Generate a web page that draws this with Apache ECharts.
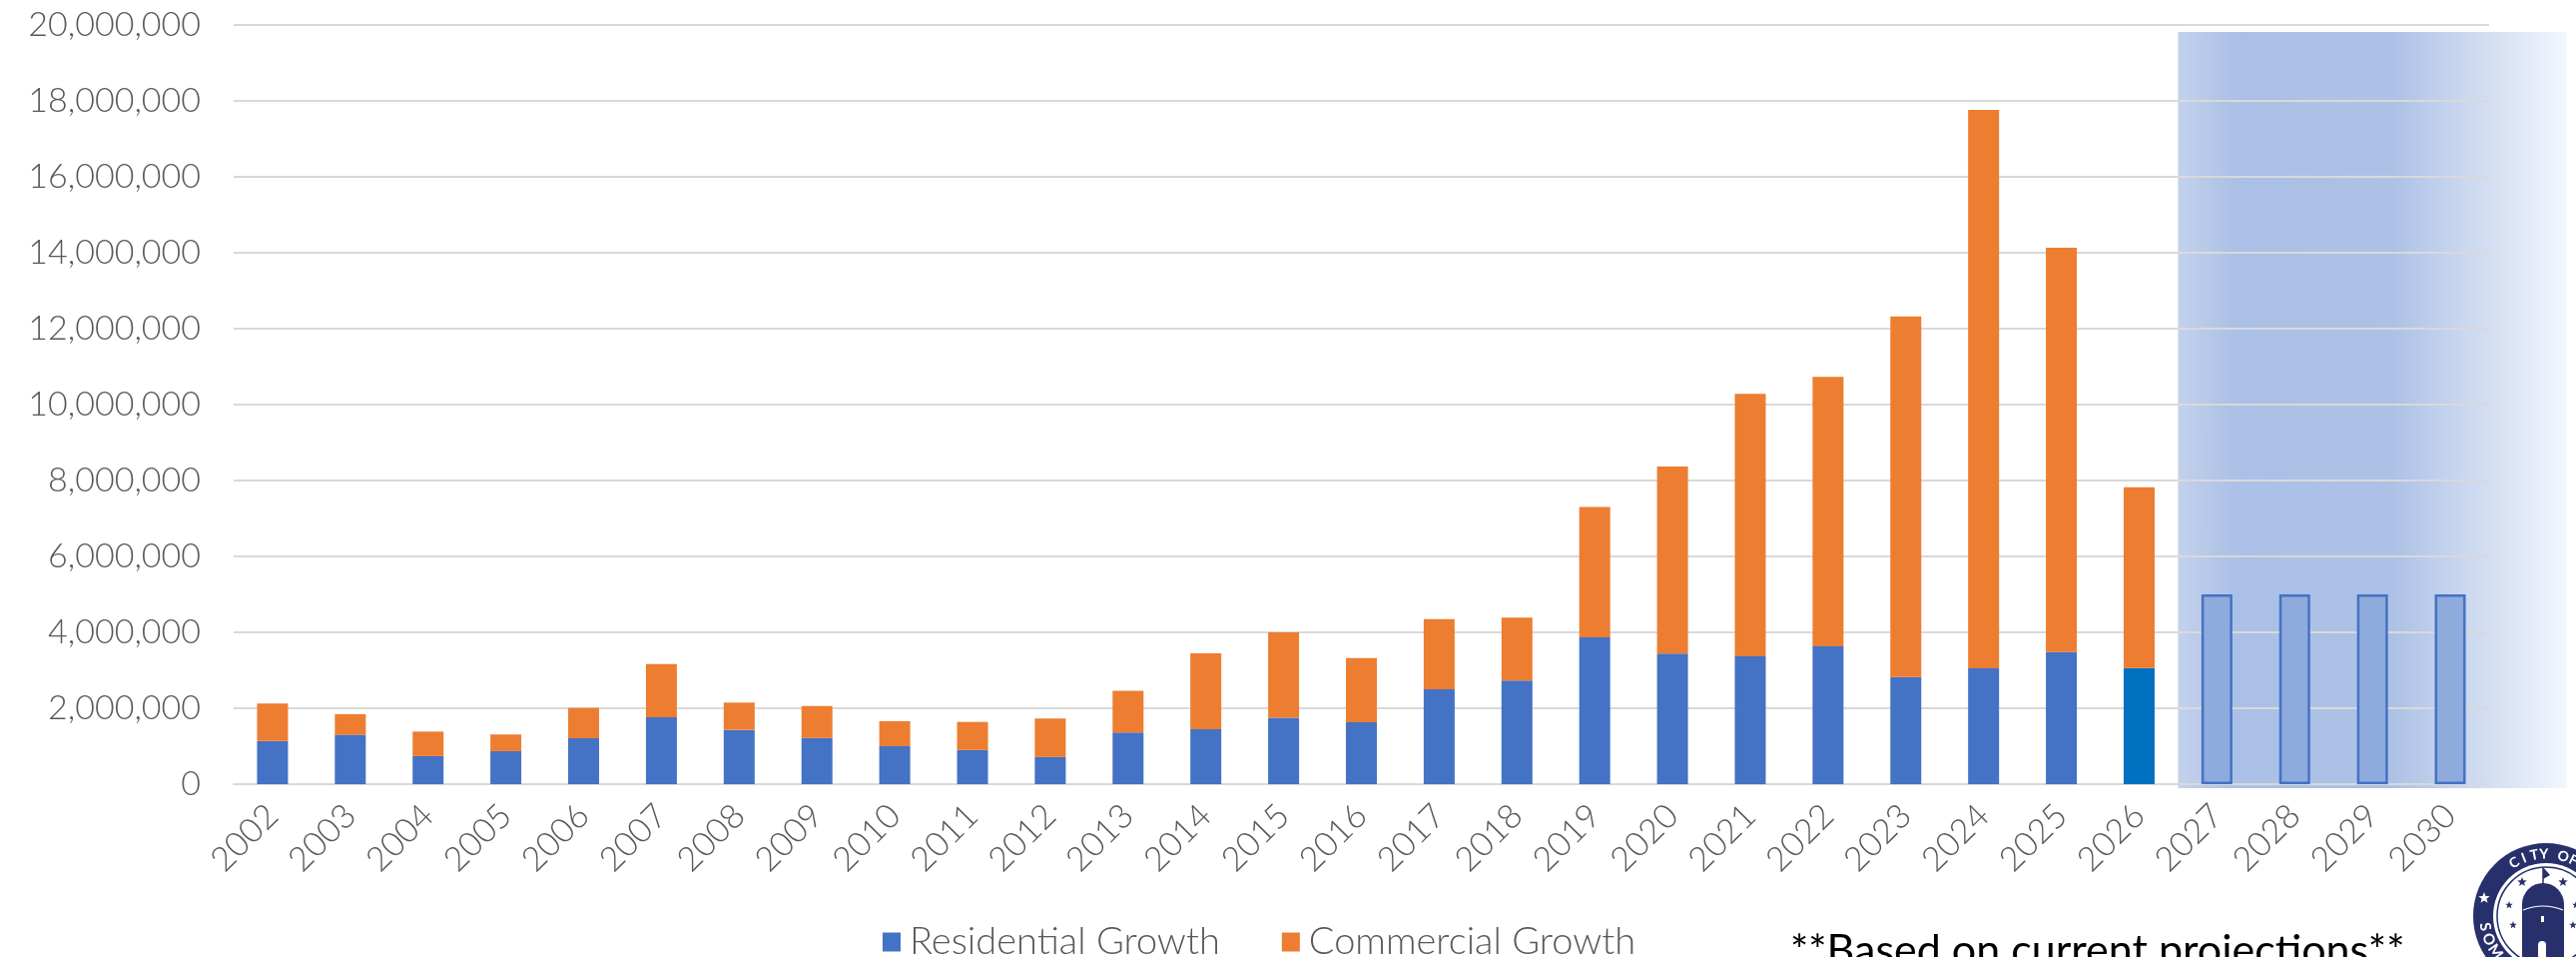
<!DOCTYPE html>
<html>
<head>
<meta charset="utf-8">
<title>Residential and Commercial Growth</title>
<script src="https://cdn.jsdelivr.net/npm/echarts@6/dist/echarts.min.js"></script>
<style>
  html, body { margin: 0; padding: 0; background: #ffffff; }
  #chart { width: 2580px; height: 958px; }
</style>
</head>
<body>
<div id="chart"></div>
<script>
// Years shown on the category axis
const years = ['2002','2003','2004','2005','2006','2007','2008','2009','2010','2011',
  '2012','2013','2014','2015','2016','2017','2018','2019','2020','2021',
  '2022','2023','2024','2025','2026','2027','2028','2029','2030'];

// Residential growth by year (2002-2026)
const residential = [1140000, 1300000, 740000, 870000, 1210000, 1760000, 1430000, 1220000, 1000000, 900000,
  720000, 1360000, 1450000, 1750000, 1630000, 2500000, 2730000, 3870000, 3440000, 3370000,
  3630000, 2820000, 3050000, 3480000, 3060000];

// Commercial growth by year (2002-2026)
const commercial = [985000, 545000, 646000, 440000, 800000, 1405000, 720000, 840000, 660000, 740000,
  1010000, 1100000, 2000000, 2250000, 1690000, 1850000, 1660000, 3430000, 4930000, 6910000,
  7100000, 9500000, 14710000, 10650000, 4760000];

// Projected totals for the coming years
const projectedYears = ['2027','2028','2029','2030'];
const projected = [5000000, 5000000, 5000000, 5000000];

// Y axis ticks
const yMin = 0, yMax = 20000000, yStep = 2000000;

const FONT = 'Lato, "Open Sans", sans-serif';
const TEXT_GREY = '#595959';
const BLUE = '#4472C4', ORANGE = '#ED7D31', CURRENT_BLUE = '#0070C0';

const resData = years.map((y, i) => {
  if (i >= residential.length) return null;
  if (y === '2026') return { value: residential[i], itemStyle: { color: CURRENT_BLUE } };
  return residential[i];
});
const comData = years.map((y, i) => i < commercial.length ? commercial[i] : null);
const projData = years.map(y => {
  const k = projectedYears.indexOf(y);
  return k >= 0 ? projected[k] : null;
});

const chart = echarts.init(document.getElementById('chart'), null, { renderer: 'canvas' });

chart.setOption({
  animation: false,
  backgroundColor: '#ffffff',
  grid: { left: 234, right: 87, top: 25, bottom: 173, containLabel: false },
  legend: {
    data: ['Residential Growth', 'Commercial Growth'],
    left: 884,
    top: 924,
    padding: 0,
    icon: 'rect',
    itemWidth: 18,
    itemHeight: 19,
    itemGap: 62,
    textStyle: { fontFamily: FONT, fontWeight: 300, fontSize: 38, color: TEXT_GREY, padding: [0, 0, 0, 4] }
  },
  xAxis: {
    type: 'category',
    data: years,
    axisTick: { show: false },
    axisLine: { show: true, lineStyle: { color: '#d9d9d9', width: 2 } },
    axisLabel: {
      rotate: 45,
      margin: 26,
      interval: 0,
      fontFamily: FONT,
      fontWeight: 300,
      fontSize: 34,
      color: TEXT_GREY
    }
  },
  yAxis: {
    type: 'value',
    min: yMin,
    max: yMax,
    interval: yStep,
    axisLine: { show: false },
    axisTick: { show: false },
    splitLine: { lineStyle: { color: '#d9d9d9', width: 2 } },
    axisLabel: {
      margin: 33,
      fontFamily: FONT,
      fontWeight: 300,
      fontSize: 34,
      color: TEXT_GREY,
      formatter: v => v.toLocaleString('en-US')
    }
  },
  series: [
    {
      name: 'Residential Growth',
      type: 'bar',
      stack: 'total',
      barWidth: 31,
      itemStyle: { color: BLUE },
      data: resData
    },
    {
      name: 'Commercial Growth',
      type: 'bar',
      stack: 'total',
      barWidth: 31,
      itemStyle: { color: ORANGE },
      data: comData
    },
    {
      name: 'Projected',
      type: 'bar',
      stack: 'total',
      barWidth: 31,
      itemStyle: { color: '#8FAADC', borderColor: '#4472C4', borderWidth: 2.5 },
      data: projData
    }
  ]
});

// Shaded band behind the projected years, placed from the axis scales
const band = chart.convertToPixel({ xAxisIndex: 0 }, '2028') - chart.convertToPixel({ xAxisIndex: 0 }, '2027');
const bandLeft = chart.convertToPixel({ xAxisIndex: 0 }, projectedYears[0]) - band / 2;
const bandRight = chart.convertToPixel({ xAxisIndex: 0 }, projectedYears[projectedYears.length - 1]) + band * 1.5;
const yTop = chart.convertToPixel({ yAxisIndex: 0 }, yMax) + 7;
const yBottom = chart.convertToPixel({ yAxisIndex: 0 }, yMin) + 4;

// Seal in the lower right corner
const cx = 2550, cy = 917;
const navy = '#27306B';

function arcLetters(text, radius, angles, outward, size) {
  return text.split('').map((ch, i) => {
    const a = angles[i] * Math.PI / 180;
    const rot = outward ? -(angles[i] + 90) : -(angles[i] - 90);
    return {
      type: 'text',
      x: cx + radius * Math.cos(a),
      y: cy + radius * Math.sin(a),
      rotation: rot * Math.PI / 180,
      style: {
        text: ch, fill: '#ffffff', font: 'bold ' + size + 'px ' + FONT,
        align: 'center', verticalAlign: 'middle'
      },
      z: 103
    };
  });
}

function star(x, y, r, color) {
  const pts = [];
  for (let k = 0; k < 10; k++) {
    const rr = k % 2 === 0 ? r : r * 0.42;
    const ang = -Math.PI / 2 + k * Math.PI / 5;
    pts.push([x + rr * Math.cos(ang), y + rr * Math.sin(ang)]);
  }
  return { type: 'polygon', shape: { points: pts }, style: { fill: color }, z: 103 };
}

const seal = [
  { type: 'circle', shape: { cx: cx, cy: cy, r: 73 }, style: { fill: navy }, z: 100 },
  { type: 'circle', shape: { cx: cx, cy: cy, r: 53 }, style: { fill: '#ffffff' }, z: 101 },
  { type: 'circle', shape: { cx: cx, cy: cy, r: 49 }, style: { fill: 'none', stroke: navy, lineWidth: 1.5 }, z: 102 }
].concat(
  arcLetters('CITYOF', 62, [-121, -111, -101, -92, -74, -64], true, 14),
  arcLetters('SOM', 62, [170, 158, 145], false, 15),
  [
    star(2488, 899, 6, '#ffffff'),
    star(2526, 883, 5, navy), star(2567, 883, 5, navy),
    star(2513, 906, 4, navy), star(2517, 926, 4, navy),
    star(2580, 906, 4, navy), star(2577, 926, 4, navy),
    // dome: half-round top over a tower body
    { type: 'sector', shape: { cx: 2547, cy: 905, r0: 0, r: 21, startAngle: Math.PI, endAngle: Math.PI * 2 }, style: { fill: navy }, z: 103 },
    { type: 'rect', shape: { x: 2526, y: 904, width: 42, height: 56 }, style: { fill: navy }, z: 103 },
    { type: 'line', shape: { x1: 2547, y1: 885, x2: 2547, y2: 868 }, style: { stroke: navy, lineWidth: 1.5 }, z: 103 },
    { type: 'polygon', shape: { points: [[2547, 868], [2554, 876], [2547, 880]] }, style: { fill: navy }, z: 103 },
    { type: 'bezierCurve', shape: { x1: 2527, y1: 911, x2: 2567, y2: 911, cpx1: 2547, cpy1: 903 }, style: { fill: 'none', stroke: '#ffffff', lineWidth: 1.2 }, z: 104 },
    { type: 'rect', shape: { x: 2545, y: 917, width: 3, height: 6 }, style: { fill: '#ffffff' }, z: 104 },
    { type: 'rect', shape: { x: 2542, y: 946, width: 8, height: 14 }, style: { fill: '#ffffff' }, z: 104 },
    { type: 'circle', shape: { cx: 2546, cy: 946, r: 4 }, style: { fill: '#ffffff' }, z: 104 }
  ]
);

chart.setOption({
  graphic: [
    {
      type: 'rect',
      z: -10,
      shape: { x: bandLeft, y: yTop, width: bandRight - bandLeft, height: yBottom - yTop },
      style: {
        fill: {
          type: 'linear', x: 0, y: 0, x2: 1, y2: 0,
          colorStops: [
            { offset: 0, color: '#C3D1EB' },
            { offset: 0.15, color: '#ABC0E6' },
            { offset: 0.55, color: '#ADC1E6' },
            { offset: 1, color: '#F3F6FC' }
          ]
        }
      }
    },
    {
      type: 'text',
      x: 1793,
      y: 931,
      style: {
        text: '**Based on current projections**',
        fill: '#000000',
        font: '43px ' + FONT
      }
    }
  ].concat(seal)
});
</script>
</body>
</html>
